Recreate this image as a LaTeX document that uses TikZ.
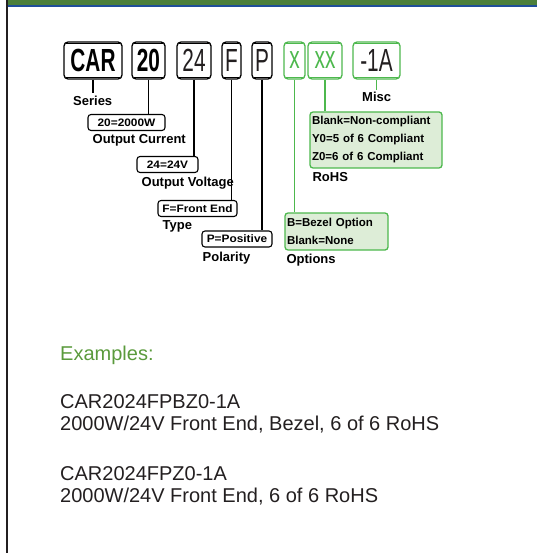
\documentclass[tikz,border=0pt]{standalone}
\usepackage{fontspec}
\setmainfont{Liberation Sans}
\newfontfamily\codefont[FakeStretch=0.65]{Liberation Sans}
\newfontfamily\valfont[FakeStretch=1.1]{Liberation Sans}
\usetikzlibrary{positioning}
\definecolor{bargreen}{HTML}{4B7F3A}
\definecolor{barblue}{HTML}{1F4E9A}
\definecolor{framedark}{HTML}{231F20}
\definecolor{optgreen}{HTML}{4DB84D}
\definecolor{optfill}{HTML}{DDEDD7}
\definecolor{exgreen}{HTML}{5A9A3C}
\tikzset{
  codebox/.style  = {draw=black, line width=1.3pt, rounded corners=4pt, fill=white},
  optbox/.style   = {draw=optgreen, line width=1.3pt, rounded corners=4pt, fill=white},
  valbox/.style   = {draw=black, line width=1.1pt, rounded corners=3pt, fill=white},
  greenbox/.style = {draw=optgreen, line width=1.3pt, rounded corners=3pt, fill=optfill},
}
\begin{document}
\begin{tikzpicture}[
            x=1pt, y=-1pt,
            every node/.style={inner sep=0pt},
            code/.style ={codebox, minimum height=37pt,
                    font=\codefont\fontsize{32}{34}\selectfont},
            ocode/.style={optbox, minimum height=37pt,
                    font=\codefont\fontsize{32}{34}\selectfont},
            val/.style  ={valbox, align=center, minimum height=16pt,
                    font=\valfont\bfseries\fontsize{10.8}{13}\selectfont},
            gval/.style ={greenbox, align=left,
                    font=\bfseries\fontsize{11.5}{18}\selectfont},
            lbl/.style  ={font=\bfseries\fontsize{13}{15}\selectfont},
            lead/.style ={-, line width=1.2pt, draw=black},
            gleadx/.style={-, line width=1.2pt, draw=optgreen},
            rim/.style  ={-, line width=0.7pt},
            extxt/.style={anchor=base west, text=framedark,
                    font=\fontsize{20}{22}\selectfont},
        ]
        \useasboundingbox (0,0) rectangle (537,553);

        %% --- page frame: title bar and left rule ---------------------------
        \fill[bargreen]  (6,0) rectangle (537,5);
        \fill[barblue]   (6,5) rectangle (537,7.3);
        \fill[framedark] (6,0) rectangle (8,553);

        %% --- part number fields -------------------------------------------
        \node[code, minimum width=58pt, font=\codefont\bfseries\fontsize{32}{34}\selectfont]
            (car) at (93,60.5) {CAR};
        \node[code, minimum width=33pt, font=\codefont\bfseries\fontsize{32}{34}\selectfont]
            (cur) at (148.5,60.5) {20};
        \node[code, minimum width=34pt, text=framedark] (volt) at (194,60.5) {24};
        \node[code, minimum width=19pt, text=framedark] (typ)  at (231.5,60.5) {F};
        \node[code, minimum width=20pt, text=framedark] (pol)  at (262,60.5) {P};
        \node[ocode, minimum width=21pt, text=optgreen] (opt)  at (294.5,60.5) {x};
        \node[ocode, minimum width=34pt, text=optgreen] (rohs) at (325,60.5) {xx};
        \node[ocode, minimum width=47pt, text=framedark] (misc) at (376.5,60.5) {-1A};

        % inner rim lines at top and bottom of each field box
        \foreach \f in {car,cur,volt,typ,pol}{
            \draw[rim] ([xshift=3pt,yshift=-2.5pt]\f.north west) -- ([xshift=-3pt,yshift=-2.5pt]\f.north east);
            \draw[rim] ([xshift=3pt,yshift=2.5pt]\f.south west) -- ([xshift=-3pt,yshift=2.5pt]\f.south east);
        }
        \foreach \f in {opt,rohs,misc}{
            \draw[rim, optgreen] ([xshift=3pt,yshift=-2.5pt]\f.north west) -- ([xshift=-3pt,yshift=-2.5pt]\f.north east);
            \draw[rim, optgreen] ([xshift=3pt,yshift=2.5pt]\f.south west) -- ([xshift=-3pt,yshift=2.5pt]\f.south east);
        }

        %% --- value boxes --------------------------------------------------
        \node[val, minimum width=77pt] (v20)  at (126.5,122.5) {20=2000W};
        \node[val, minimum width=61pt] (v24)  at (167.5,164.5) {24=24V};
        \node[val, minimum width=79pt] (vF)   at (197.5,208.5) {F=Front End};
        \node[val, minimum width=70pt] (vP)   at (237,239)     {P=Positive};
        \node[gval, minimum width=103pt, minimum height=37pt, text width=99pt]
            (vopt) at (336.5,231.5) {B=Bezel Option\\Blank=None};
        \node[gval, minimum width=132pt, minimum height=56pt, text width=128pt]
            (vrohs) at (376,140) {Blank=Non-compliant\\Y0=5 of 6 Compliant\\Z0=6 of 6 Compliant};

        %% --- field names --------------------------------------------------
        \node[lbl, anchor=north west] (lser)  at (73,96) {Series};
        \node[lbl, anchor=north west] (lmisc) at (362,92) {Misc};
        \node[lbl, below right=3pt and 5pt of v20.south west]   (lcur)  {Output Current};
        \node[lbl, below right=4pt and 5pt of v24.south west]   (lvolt) {Output Voltage};
        \node[lbl, below right=3pt and 5pt of vF.south west]    (ltyp)  {Type};
        \node[lbl, below right=4pt and 1pt of vP.south west]    (lpol)  {Polarity};
        \node[lbl, below right=3pt and 2pt of vopt.south west]  (lopt)  {Options};
        \node[lbl, below right=4pt and 3pt of vrohs.south west] (lrohs) {RoHS};

        %% --- leaders: field -> value box ----------------------------------
        \draw[lead] (car.south) -- ([yshift=3pt]car.south |- lser.north);
        \draw[lead] (cur.south)  -- (cur.south |- v20.north);
        \draw[lead] (volt.south) -- (volt.south |- v24.north);
        \draw[lead] (typ.south)  -- (typ.south |- vF.north);
        \draw[lead] (pol.south)  -- (pol.south |- vP.north);
        \draw[gleadx] (opt.south)  -- (opt.south |- vopt.north);
        \draw[gleadx] (rohs.south) -- (rohs.south |- vrohs.north);
        \draw[gleadx] (misc.south) -- ([yshift=2pt]misc.south |- lmisc.north);

        %% --- examples -----------------------------------------------------
        \node[extxt, text=exgreen] (exhead) at (60,360) {Examples:};
        \node[extxt] (exa)  at (60,408) {CAR2024FPBZ0-1A};
        \node[extxt] (exad) at (60,430) {2000W/24V Front End, Bezel, 6 of 6 RoHS};
        \node[extxt] (exb)  at (60,480) {CAR2024FPZ0-1A};
        \node[extxt] (exbd) at (60,502) {2000W/24V Front End, 6 of 6 RoHS};

    \end{tikzpicture}
\end{document}
